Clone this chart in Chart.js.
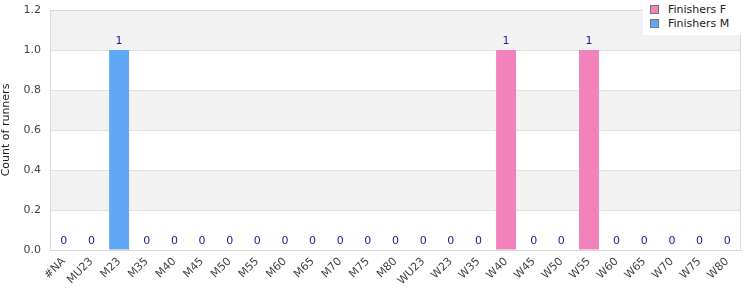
<!DOCTYPE html>
<html>
<head>
<meta charset="utf-8">
<script src="https://cdn.jsdelivr.net/npm/chart.js@4/dist/chart.umd.min.js"></script>
<style>
html,body{margin:0;padding:0;background:#fff;}
#wrap{position:relative;width:750px;height:300px;}
#legend{position:absolute;left:643px;top:0;width:98px;height:35px;background:#fff;font:11px "DejaVu Sans",sans-serif;color:#222;}
#legend div{position:absolute;left:7px;white-space:nowrap;}
#legend span{display:inline-block;width:7px;height:7px;border:1px solid #777;margin-right:9px;vertical-align:-1px;}
</style>
</head>
<body>
<div id="wrap">
<canvas id="c" width="750" height="300"></canvas>
<div id="legend"></div>
</div>
<script>
const categories = ['#NA','MU23','M23','M35','M40','M45','M50','M55','M60','M65','M70','M75','M80','WU23','W23','W35','W40','W45','W50','W55','W60','W65','W70','W75','W80'];
const finishersF = [0,0,0,0,0,0,0,0,0,0,0,0,0,0,0,0,1,0,0,1,0,0,0,0,0];
const finishersM = [0,0,1,0,0,0,0,0,0,0,0,0,0,0,0,0,0,0,0,0,0,0,0,0,0];
const yTicks = [0,0.2,0.4,0.6,0.8,1.0,1.2];

const pink = '#f182bb', blue = '#60a8f5';
const font = '"DejaVu Sans", sans-serif';

const bands = {
id:'bands',
beforeDraw(chart){
const {ctx, chartArea:a, scales:{y}} = chart;
ctx.save();
ctx.fillStyle = '#f2f2f2';
for (let i=1;i<yTicks.length-1;i+=2){
const top = y.getPixelForValue(yTicks[i+1]), bot = y.getPixelForValue(yTicks[i]);
ctx.fillRect(a.left, top, a.right-a.left, bot-top);
}
ctx.restore();
},
afterDraw(chart){
const {ctx, chartArea:a} = chart;
ctx.save();
ctx.strokeStyle = '#d9d9d9';
ctx.lineWidth = 1;
ctx.strokeRect(a.left+0.5, a.top+0.5, a.right-a.left-1, a.bottom-a.top);
ctx.restore();
}
};

const totals = {
id:'totals',
afterDatasetsDraw(chart){
const {ctx, scales:{x,y}} = chart;
ctx.save();
ctx.font = '11px ' + font;
ctx.fillStyle = '#1c1c94';
ctx.textAlign = 'center';
ctx.textBaseline = 'bottom';
categories.forEach((c,i)=>{
const v = finishersF[i] + finishersM[i];
ctx.fillText(String(v), x.getPixelForValue(i), y.getPixelForValue(v) - 3);
});
ctx.restore();
}
};

new Chart(document.getElementById('c'), {
type:'bar',
data:{
labels:categories,
datasets:[
{label:'Finishers F', data:finishersF, backgroundColor:pink, barPercentage:0.72, categoryPercentage:1},
{label:'Finishers M', data:finishersM, backgroundColor:blue, barPercentage:0.72, categoryPercentage:1}
]
},
options:{
responsive:false,
animation:false,
layout:{padding:{top:10,right:9,left:0,bottom:0}},
plugins:{legend:{display:false}, tooltip:{enabled:false}},
scales:{
x:{
stacked:true,
grid:{display:false, drawTicks:false},
border:{color:'#d9d9d9'},
ticks:{font:{family:font,size:11}, color:'#444', maxRotation:45, minRotation:45, autoSkip:false, padding:5},
afterFit(s){ s.height = 50; }
},
y:{
stacked:true,
min:0, max:1.2,
grid:{color:'#e0e0e0', drawTicks:false},
border:{color:'#d9d9d9'},
ticks:{stepSize:0.2, font:{family:font,size:11}, color:'#444', padding:9, callback:v=>v.toFixed(1)},
title:{display:true, text:'Count of runners', font:{family:font,size:11}, color:'#222', padding:0},
afterFit(s){ s.width = 50; s.paddingTop = 0; }
}
}
},
plugins:[bands, totals]
});

const leg = document.getElementById('legend');
[['Finishers F',pink],['Finishers M',blue]].forEach(([t,c],i)=>{
const d = document.createElement('div');
d.style.top = (3 + i*14) + 'px';
d.innerHTML = '<span style="background:'+c+'"></span>' + t;
leg.appendChild(d);
});
</script>
</body>
</html>
